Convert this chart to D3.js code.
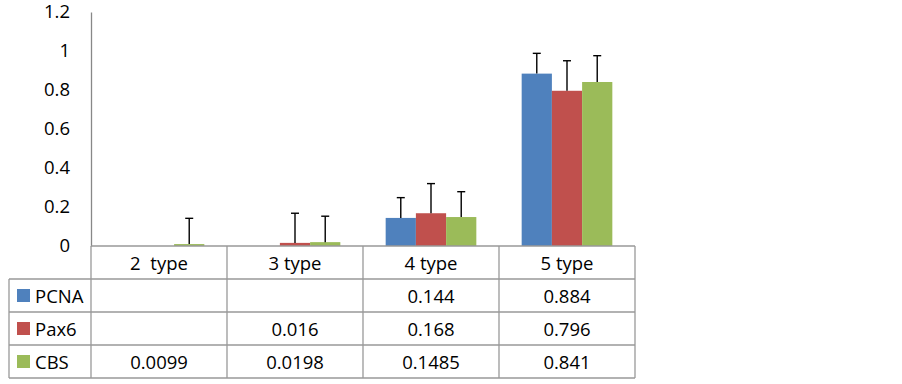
<!DOCTYPE html>
<html><head><meta charset="utf-8">
<script src="https://cdn.jsdelivr.net/npm/d3@7"></script>
<style>body{margin:0;background:#fff;}svg{display:block;}text{font-family:"Open Sans",sans-serif;fill:#000;}</style>
</head><body><svg id="c" width="902" height="384"></svg>
<script>
const categories = ["2  type", "3 type", "4 type", "5 type"];
const seriesNames = ["PCNA", "Pax6", "CBS"];
const seriesColors = ["#4F81BD", "#C0504D", "#9BBB59"];
const pcna = [null, null, 0.144, 0.884];
const pax6 = [null, 0.016, 0.168, 0.796];
const cbs = [0.0099, 0.0198, 0.1485, 0.841];
const pcnaErr = [null, null, 0.104, 0.104];
const pax6Err = [null, 0.152, 0.152, 0.154];
const cbsErr = [0.132, 0.133, 0.130, 0.135];
const tableLabels = [
  ["", "", "0.144", "0.884"],
  ["", "0.016", "0.168", "0.796"],
  ["0.0099", "0.0198", "0.1485", "0.841"]
];
const yTicks = [0, 0.2, 0.4, 0.6, 0.8, 1, 1.2];

const values = [pcna, pax6, cbs];
const errs = [pcnaErr, pax6Err, cbsErr];

const svg = d3.select("#c");
const plotLeft = 91, plotRight = 635, plotTop = 12, zeroY = 246;
const rowH = 33, headerH = 33, legendLeft = 9;
const fs = 18.5;

const x = d3.scaleBand().domain(categories).range([plotLeft, plotRight]).paddingInner(0).paddingOuter(0);
const barW = x.bandwidth() / 4.5;
const y = d3.scaleLinear().domain([0, 1.2]).range([zeroY, plotTop]);

// y axis
const yAxis = d3.axisLeft(y).tickValues(yTicks).tickSize(0).tickPadding(21).tickFormat(d => d3.format("")(d));
const gy = svg.append("g").attr("transform", `translate(${plotLeft},0)`).call(yAxis);
gy.select(".domain").attr("stroke", "#888").attr("stroke-width", 1.3);
gy.selectAll("text").style("font-family", '"Open Sans",sans-serif').style("font-size", fs + "px").attr("fill", "#000");

// bars
seriesNames.forEach((s, si) => {
  const g = svg.append("g");
  const data = categories.map((c, ci) => ({c, v: values[si][ci], e: errs[si][ci]})).filter(d => d.v != null);
  g.selectAll("rect").data(data).join("rect")
    .attr("x", d => x(d.c) + x.bandwidth()/2 - 1.5*barW + si*barW)
    .attr("width", barW)
    .attr("y", d => y(d.v))
    .attr("height", d => Math.max(zeroY - y(d.v), 0))
    .attr("fill", seriesColors[si]);
});
// error bars
seriesNames.forEach((s, si) => {
  const g = svg.append("g").attr("stroke", "#000").attr("stroke-width", 1.4);
  categories.forEach((c, ci) => {
    const v = values[si][ci] == null ? 0 : values[si][ci];
    const e = errs[si][ci];
    if (e == null) return;
    const cx = x(c) + x.bandwidth()/2 - 1.5*barW + si*barW + barW/2;
    g.append("line").attr("x1", cx).attr("x2", cx).attr("y1", y(v)).attr("y2", y(v + e));
    g.append("line").attr("x1", cx - 4).attr("x2", cx + 4).attr("y1", y(v + e)).attr("y2", y(v + e));
  });
});

// table
const grid = svg.append("g").attr("stroke", "#999").attr("stroke-width", 1.3).attr("fill", "none");
const tableBottom = zeroY + headerH + rowH * 3;
grid.append("line").attr("x1", plotLeft).attr("x2", plotRight).attr("y1", zeroY).attr("y2", zeroY);
for (let r = 1; r <= 4; r++) {
  const yy = zeroY + headerH + rowH * (r - 1);
  grid.append("line").attr("x1", legendLeft).attr("x2", plotRight).attr("y1", yy).attr("y2", yy);
}
x.domain().forEach(c => {
  grid.append("line").attr("x1", x(c)).attr("x2", x(c)).attr("y1", zeroY).attr("y2", tableBottom);
});
grid.append("line").attr("x1", plotRight).attr("x2", plotRight).attr("y1", zeroY).attr("y2", tableBottom);
grid.append("line").attr("x1", legendLeft).attr("x2", legendLeft).attr("y1", zeroY + headerH).attr("y2", tableBottom);

// header
svg.append("g").selectAll("text").data(categories).join("text")
  .attr("x", d => x(d) + x.bandwidth()/2)
  .attr("y", zeroY + headerH/2)
  .attr("text-anchor", "middle").attr("dominant-baseline", "central")
  .style("white-space", "pre")
  .style("font-size", fs + "px").text(d => d);

// rows
seriesNames.forEach((s, si) => {
  const cy = zeroY + headerH + rowH * si + rowH/2;
  svg.append("rect").attr("x", 17).attr("y", cy - 6.5).attr("width", 13).attr("height", 13).attr("fill", seriesColors[si]);
  svg.append("text").attr("x", 35).attr("y", cy).attr("dominant-baseline", "central")
    .style("font-size", fs + "px").text(s);
  svg.append("g").selectAll("text").data(categories).join("text")
    .attr("x", d => x(d) + x.bandwidth()/2).attr("y", cy)
    .attr("text-anchor", "middle").attr("dominant-baseline", "central")
    .style("font-size", fs + "px").text((d, ci) => tableLabels[si][ci]);
});
</script></body></html>
